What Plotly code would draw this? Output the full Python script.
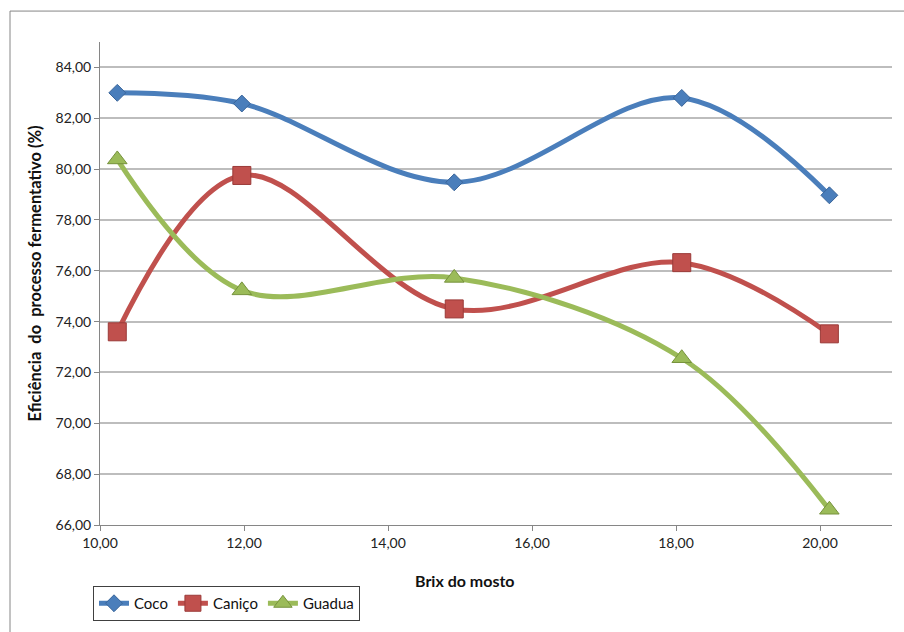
import plotly.graph_objects as go

# Brix values of each must and fermentation efficiency (%) per raw material
brix = [10.24, 11.97, 14.92, 18.08, 20.13]
coco = [83.00, 82.58, 79.48, 82.80, 78.97]
canico = [73.60, 79.75, 74.50, 76.32, 73.52]
guadua = [80.38, 75.23, 75.72, 72.56, 66.60]

x_ticks = [10, 12, 14, 16, 18, 20]
y_ticks = [66, 68, 70, 72, 74, 76, 78, 80, 82, 84]

W, H = 904, 632
L, R, T, B = 100, 12, 42, 106
PW, PH = W - L - R, H - T - B


def px_x(p):
    return (p - L) / PW


def px_y(p):
    return (H - B - p) / PH


series = [
    ("Coco", coco, "#4a7ebb", "#3a659a", "diamond", 13),
    ("Caniço", canico, "#c0504d", "#9a3a38", "square", 18),
    ("Guadua", guadua, "#9bbb59", "#76923c", "triangle-up", 17),
]

fig = go.Figure()
for name, vals, col, edge, sym, size in series:
    fig.add_trace(go.Scatter(
        x=brix, y=vals, name=name, mode="lines+markers",
        line=dict(color=col, width=5, shape="spline", smoothing=1),
        marker=dict(symbol=sym, size=size, color=col, line=dict(color=edge, width=1)),
    ))

font = "Lato, 'Open Sans', sans-serif"

fig.update_layout(
    width=W, height=H,
    margin=dict(l=L, r=R, t=T, b=B),
    paper_bgcolor="white", plot_bgcolor="white",
    separators=",.",
    font=dict(family=font, size=14, color="#222222"),
    showlegend=True,
    legend=dict(
        orientation="h", x=px_x(93), y=px_y(586), xanchor="left", yanchor="top",
        bordercolor="#404040", borderwidth=1, bgcolor="white",
        font=dict(size=15, color="#111111"), itemwidth=30,
        tracegroupgap=0,
    ),
    xaxis=dict(
        range=[10, 21], tickvals=x_ticks, tickformat=".2f",
        showgrid=False, zeroline=False,
        showline=True, linecolor="#868686", linewidth=1,
        ticks="outside", ticklen=5, tickcolor="#868686",
        tickfont=dict(size=14, color="#222222"),
    ),
    yaxis=dict(
        range=[66, 85], tickvals=y_ticks, tickformat=".2f",
        showgrid=True, gridcolor="#bdbdbd", gridwidth=1.5, zeroline=False,
        showline=True, linecolor="#868686", linewidth=1,
        ticks="outside", ticklen=5, tickcolor="#868686",
        tickfont=dict(size=14, color="#222222"),
    ),
    annotations=[
        dict(text="<b>Brix do mosto</b>", xref="paper", yref="paper",
             x=px_x(465), y=px_y(582), xanchor="center", yanchor="middle",
             showarrow=False, font=dict(size=16, color="#111111")),
        dict(text="<b>Eficiência  do  processo fermentativo (%)</b>", xref="paper", yref="paper",
             x=px_x(35), y=px_y(274), xanchor="center", yanchor="middle", textangle=-90,
             showarrow=False, font=dict(size=16.5, color="#111111")),
    ],
    shapes=[
        dict(type="rect", xref="paper", yref="paper",
             x0=px_x(10), x1=px_x(940), y0=px_y(680), y1=px_y(11),
             line=dict(color="#868686", width=1), fillcolor="rgba(0,0,0,0)", layer="below"),
    ],
)

fig.write_html("out.html")
